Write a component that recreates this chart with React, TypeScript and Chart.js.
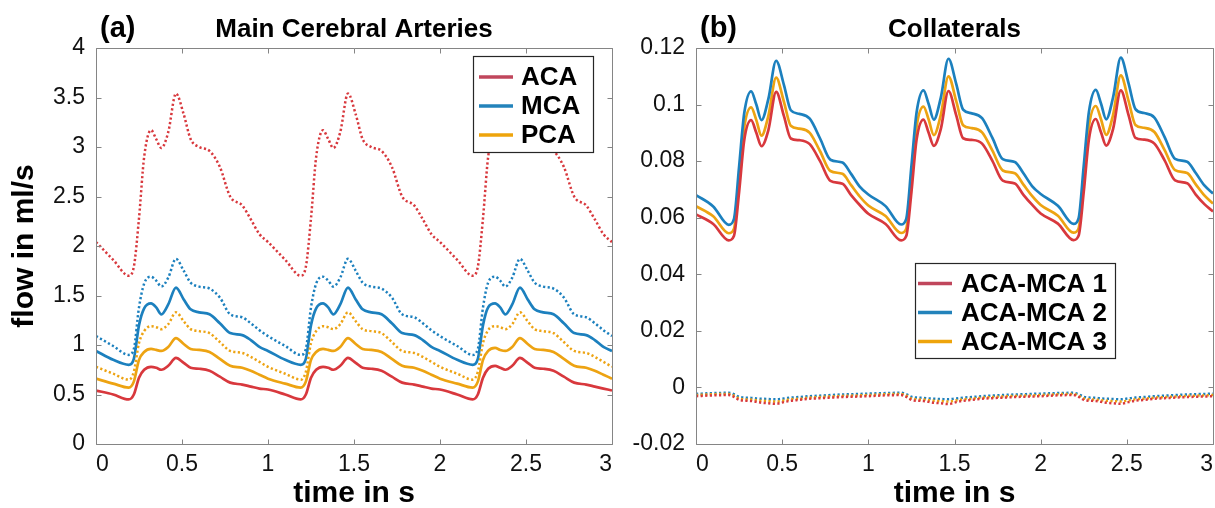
import { useEffect, useRef } from "react";
import { Chart, registerables } from "chart.js";

Chart.register(...registerables);

// ---------- data ----------
const TIME = [
  0, 0.1, 0.19, 0.22, 0.25, 0.28, 0.32, 0.35, 0.38, 0.42, 0.465, 0.51, 0.55, 0.6, 0.66, 0.72, 0.78, 0.85, 0.9, 0.95,
  1, 1.1, 1.19, 1.22, 1.25, 1.28, 1.32, 1.35, 1.38, 1.42, 1.465, 1.51, 1.55, 1.6, 1.66, 1.72, 1.78, 1.85, 1.9, 1.95,
  2, 2.1, 2.19, 2.22, 2.25, 2.28, 2.32, 2.35, 2.38, 2.42, 2.465, 2.51, 2.55, 2.6, 2.66, 2.72, 2.78, 2.85, 2.9, 2.95,
  3,
];

// (a) Main cerebral arteries, solid lines
const ACA_SOLID = [
  0.54, 0.5, 0.45, 0.5, 0.67, 0.75, 0.78, 0.77, 0.75, 0.79, 0.87, 0.82, 0.77, 0.76, 0.74, 0.68, 0.62, 0.6, 0.58, 0.56,
  0.55, 0.5, 0.45, 0.5, 0.67, 0.75, 0.78, 0.77, 0.75, 0.79, 0.87, 0.82, 0.77, 0.76, 0.74, 0.68, 0.62, 0.6, 0.58, 0.56,
  0.55, 0.5, 0.45, 0.5, 0.67, 0.76, 0.79, 0.77, 0.75, 0.79, 0.87, 0.82, 0.77, 0.76, 0.74, 0.68, 0.62, 0.6, 0.58, 0.56,
  0.54,
];
const MCA_SOLID = [
  0.94, 0.85, 0.8, 0.86, 1.2, 1.37, 1.42, 1.38, 1.31, 1.41, 1.58, 1.46, 1.36, 1.33, 1.31, 1.22, 1.12, 1.1, 1.05, 0.98,
  0.94, 0.85, 0.8, 0.86, 1.2, 1.37, 1.42, 1.38, 1.31, 1.41, 1.58, 1.46, 1.36, 1.33, 1.31, 1.22, 1.12, 1.1, 1.05, 0.98,
  0.94, 0.85, 0.8, 0.86, 1.2, 1.38, 1.42, 1.38, 1.31, 1.41, 1.58, 1.46, 1.36, 1.33, 1.31, 1.22, 1.12, 1.1, 1.05, 0.98,
  0.94,
];
const PCA_SOLID = [
  0.66, 0.61, 0.57, 0.63, 0.85, 0.93, 0.96, 0.95, 0.94, 0.98, 1.07, 1.01, 0.96, 0.95, 0.93, 0.86, 0.79, 0.77, 0.74, 0.7,
  0.66, 0.61, 0.57, 0.63, 0.85, 0.93, 0.96, 0.95, 0.94, 0.98, 1.07, 1.01, 0.96, 0.95, 0.93, 0.86, 0.79, 0.77, 0.74, 0.7,
  0.66, 0.61, 0.57, 0.63, 0.85, 0.94, 0.97, 0.95, 0.94, 0.98, 1.07, 1.01, 0.96, 0.95, 0.93, 0.86, 0.79, 0.77, 0.74, 0.7,
  0.66,
];
// (a) dotted lines
const ACA_DOTTED = [
  2.04, 1.86, 1.7, 1.79, 2.28, 2.9, 3.17, 3.08, 2.99, 3.15, 3.54, 3.33, 3.08, 3.0, 2.96, 2.8, 2.5, 2.41, 2.27, 2.12,
  2.04, 1.86, 1.7, 1.79, 2.28, 2.9, 3.17, 3.08, 2.99, 3.15, 3.54, 3.33, 3.08, 3.0, 2.96, 2.8, 2.5, 2.41, 2.27, 2.12,
  2.04, 1.86, 1.7, 1.79, 2.28, 2.9, 3.17, 3.08, 2.99, 3.15, 3.54, 3.33, 3.08, 3.0, 2.96, 2.8, 2.5, 2.41, 2.27, 2.12,
  2.04,
];
const MCA_DOTTED = [
  1.09, 0.99, 0.9, 0.96, 1.38, 1.62, 1.69, 1.65, 1.59, 1.68, 1.87, 1.75, 1.63, 1.59, 1.57, 1.48, 1.31, 1.28, 1.22, 1.15,
  1.09, 0.99, 0.9, 0.96, 1.38, 1.62, 1.69, 1.65, 1.59, 1.68, 1.87, 1.75, 1.63, 1.59, 1.57, 1.48, 1.31, 1.28, 1.22, 1.15,
  1.09, 0.99, 0.9, 0.96, 1.38, 1.63, 1.69, 1.65, 1.59, 1.68, 1.87, 1.75, 1.63, 1.59, 1.57, 1.48, 1.31, 1.28, 1.22, 1.15,
  1.09,
];
const PCA_DOTTED = [
  0.78, 0.71, 0.65, 0.73, 1.02, 1.14, 1.19, 1.18, 1.16, 1.21, 1.33, 1.24, 1.16, 1.14, 1.12, 1.03, 0.94, 0.92, 0.88, 0.83,
  0.78, 0.71, 0.65, 0.73, 1.02, 1.14, 1.19, 1.18, 1.16, 1.21, 1.33, 1.24, 1.16, 1.14, 1.12, 1.03, 0.94, 0.92, 0.88, 0.83,
  0.78, 0.71, 0.65, 0.73, 1.02, 1.15, 1.19, 1.18, 1.16, 1.21, 1.33, 1.24, 1.16, 1.14, 1.12, 1.03, 0.94, 0.92, 0.88, 0.83,
  0.78,
];

// (b) Collaterals, solid lines
const AM1_SOLID = [
  0.0612, 0.0578, 0.052, 0.0535, 0.069, 0.0875, 0.0945, 0.09, 0.0853, 0.091, 0.1045, 0.096, 0.088, 0.0874, 0.086, 0.08, 0.073, 0.072, 0.068, 0.0645,
  0.0614, 0.0578, 0.052, 0.0535, 0.069, 0.0876, 0.0947, 0.09, 0.0854, 0.0912, 0.1048, 0.0962, 0.0881, 0.0875, 0.0862, 0.0801, 0.0731, 0.0721, 0.0681, 0.0646,
  0.0615, 0.0579, 0.0521, 0.0536, 0.0691, 0.0877, 0.0949, 0.0902, 0.0855, 0.0913, 0.105, 0.0963, 0.0882, 0.0876, 0.0862, 0.0802, 0.0732, 0.0722, 0.0682, 0.0648,
  0.0622,
];
const AM2_SOLID = [
  0.068, 0.064, 0.0575, 0.0595, 0.078, 0.097, 0.1047, 0.1, 0.0945, 0.102, 0.1155, 0.107, 0.098, 0.0967, 0.095, 0.088, 0.0805, 0.0795, 0.0755, 0.071,
  0.0682, 0.0641, 0.0576, 0.0596, 0.0782, 0.0972, 0.105, 0.1002, 0.0947, 0.1023, 0.1162, 0.1073, 0.0982, 0.0969, 0.0952, 0.0882, 0.0807, 0.0797, 0.0757, 0.0712,
  0.0684, 0.0642, 0.0578, 0.0598, 0.0784, 0.0974, 0.1052, 0.1004, 0.0948, 0.1025, 0.1166, 0.1075, 0.0984, 0.097, 0.0954, 0.0884, 0.0808, 0.0798, 0.0758, 0.0714,
  0.0686,
];
const AM3_SOLID = [
  0.0641, 0.0605, 0.0545, 0.056, 0.073, 0.092, 0.099, 0.0945, 0.089, 0.096, 0.1095, 0.101, 0.0925, 0.0915, 0.09, 0.0835, 0.0765, 0.0755, 0.0715, 0.0675,
  0.0643, 0.0606, 0.0546, 0.0561, 0.0732, 0.0922, 0.0993, 0.0947, 0.0892, 0.0962, 0.11, 0.1012, 0.0927, 0.0917, 0.0902, 0.0837, 0.0767, 0.0757, 0.0717, 0.0677,
  0.0645, 0.0607, 0.0547, 0.0562, 0.0733, 0.0923, 0.0995, 0.0948, 0.0893, 0.0963, 0.1103, 0.1013, 0.0928, 0.0918, 0.0903, 0.0838, 0.0768, 0.0758, 0.0718, 0.0679,
  0.065,
];
// (b) dotted lines
const AM1_DOTTED = [
  -0.0031, -0.0028, -0.0027, -0.0033, -0.0044, -0.0047, -0.0048, -0.0051, -0.0054, -0.0056, -0.0058, -0.0052, -0.0047, -0.0044, -0.004, -0.0038, -0.0036, -0.0034, -0.0033, -0.0032,
  -0.0031, -0.0028, -0.0027, -0.0033, -0.0044, -0.0047, -0.0048, -0.0051, -0.0054, -0.0056, -0.0059, -0.0052, -0.0047, -0.0044, -0.004, -0.0038, -0.0036, -0.0034, -0.0033, -0.0032,
  -0.0031, -0.0028, -0.0027, -0.0033, -0.0044, -0.0047, -0.0048, -0.0051, -0.0054, -0.0056, -0.0058, -0.0052, -0.0047, -0.0044, -0.004, -0.0038, -0.0036, -0.0034, -0.0033, -0.0032,
  -0.0031,
];
const AM2_DOTTED = [
  -0.0023, -0.002, -0.0019, -0.0024, -0.0033, -0.0036, -0.0037, -0.0039, -0.004, -0.0041, -0.0042, -0.0039, -0.0036, -0.0034, -0.0031, -0.0029, -0.0027, -0.0025, -0.0024, -0.0023,
  -0.0022, -0.002, -0.0019, -0.0024, -0.0033, -0.0036, -0.0037, -0.0039, -0.004, -0.0041, -0.0042, -0.0039, -0.0036, -0.0034, -0.0031, -0.0029, -0.0027, -0.0025, -0.0024, -0.0023,
  -0.0022, -0.002, -0.0019, -0.0024, -0.0033, -0.0036, -0.0037, -0.0039, -0.004, -0.0041, -0.0042, -0.0039, -0.0036, -0.0034, -0.0031, -0.0029, -0.0027, -0.0025, -0.0024, -0.0023,
  -0.0022,
];
const AM3_DOTTED = [
  -0.0027, -0.0024, -0.0023, -0.0029, -0.0039, -0.0042, -0.0043, -0.0045, -0.0047, -0.0048, -0.005, -0.0046, -0.0042, -0.004, -0.0036, -0.0034, -0.0032, -0.003, -0.0029, -0.0028,
  -0.0027, -0.0024, -0.0023, -0.0029, -0.0039, -0.0042, -0.0043, -0.0045, -0.0047, -0.0048, -0.005, -0.0046, -0.0042, -0.004, -0.0036, -0.0034, -0.0032, -0.003, -0.0029, -0.0028,
  -0.0027, -0.0024, -0.0023, -0.0029, -0.0039, -0.0042, -0.0043, -0.0045, -0.0047, -0.0048, -0.005, -0.0046, -0.0042, -0.004, -0.0036, -0.0034, -0.0032, -0.003, -0.0029, -0.0028,
  -0.0027,
];

const X_TICKS = [0, 0.5, 1, 1.5, 2, 2.5, 3];
const X_TICK_LABELS = ["0", "0.5", "1", "1.5", "2", "2.5", "3"];
const Y_TICKS_A = [0, 0.5, 1, 1.5, 2, 2.5, 3, 3.5, 4];
const Y_TICK_LABELS_A = ["0", "0.5", "1", "1.5", "2", "2.5", "3", "3.5", "4"];
const Y_TICKS_B = [-0.02, 0, 0.02, 0.04, 0.06, 0.08, 0.1, 0.12];
const Y_TICK_LABELS_B = ["-0.02", "0", "0.02", "0.04", "0.06", "0.08", "0.1", "0.12"];

const LEGEND_A = ["ACA", "MCA", "PCA"];
const LEGEND_B = ["ACA-MCA 1", "ACA-MCA 2", "ACA-MCA 3"];

// ---------- styles ----------
const FONT = '"Liberation Sans", Arial, Helvetica, sans-serif';
const RED = "#d8383d";
const BLUE = "#1c80be";
const ORANGE = "#eda312";
const LEG_RED = "#c0465c";
const LEG_BLUE = "#2383bb";
const LEG_ORANGE = "#eea40c";
const FRAME = "#858585";
const TICK_LEN = 5;
const TICK_FONT_SIZE = 23;
const TITLE_SIZE = 26;
const LABEL_SIZE = 30;
const PANEL_TAG_SIZE = 29;

type TextSpec = { text: string; x: number; y: number; align: CanvasTextAlign; base: CanvasTextBaseline; size: number; rotate?: boolean };
type LegendSpec = { x: number; y: number; w: number; h: number; lx0: number; lx1: number; tx: number; rows: number[]; labels: string[]; colors: string[] };

function decor(texts: TextSpec[], legend: LegendSpec) {
  return {
    id: "decor",
    afterDraw(chart: any) {
      const { ctx, chartArea: a } = chart;
      const xs = chart.scales.x;
      const ys = chart.scales.y;
      ctx.save();
      // frame + inward ticks
      const L = Math.round(a.left) + 0.5;
      const R = Math.round(a.right) + 0.5;
      const T = Math.round(a.top) + 0.5;
      const B = Math.round(a.bottom) + 0.5;
      ctx.strokeStyle = FRAME;
      ctx.lineWidth = 1;
      ctx.setLineDash([]);
      ctx.beginPath();
      ctx.rect(L, T, R - L, B - T);
      xs.ticks.forEach((t: any) => {
        const p = Math.round(xs.getPixelForValue(t.value)) + 0.5;
        ctx.moveTo(p, B);
        ctx.lineTo(p, B - TICK_LEN);
        ctx.moveTo(p, T);
        ctx.lineTo(p, T + TICK_LEN);
      });
      ys.ticks.forEach((t: any) => {
        const p = Math.round(ys.getPixelForValue(t.value)) + 0.5;
        ctx.moveTo(L, p);
        ctx.lineTo(L + TICK_LEN, p);
        ctx.moveTo(R, p);
        ctx.lineTo(R - TICK_LEN, p);
      });
      ctx.stroke();

      // legend
      ctx.fillStyle = "#ffffff";
      ctx.fillRect(legend.x, legend.y, legend.w, legend.h);
      ctx.strokeStyle = "#262626";
      ctx.lineWidth = 1.2;
      ctx.strokeRect(legend.x + 0.5, legend.y + 0.5, legend.w, legend.h);
      ctx.font = `bold ${TITLE_SIZE}px ${FONT}`;
      ctx.textAlign = "left";
      ctx.textBaseline = "middle";
      legend.rows.forEach((ry, i) => {
        ctx.strokeStyle = legend.colors[i];
        ctx.lineWidth = 3.5;
        ctx.beginPath();
        ctx.moveTo(legend.lx0, ry);
        ctx.lineTo(legend.lx1, ry);
        ctx.stroke();
        ctx.fillStyle = "#000000";
        ctx.fillText(legend.labels[i], legend.tx, ry + 1);
      });

      // titles and axis labels
      ctx.fillStyle = "#000000";
      texts.forEach((t) => {
        ctx.save();
        ctx.font = `bold ${t.size}px ${FONT}`;
        ctx.textAlign = t.align;
        ctx.textBaseline = t.base;
        if (t.rotate) {
          ctx.translate(t.x, t.y);
          ctx.rotate(-Math.PI / 2);
          ctx.fillText(t.text, 0, 0);
        } else {
          ctx.fillText(t.text, t.x, t.y);
        }
        ctx.restore();
      });
      ctx.restore();
    },
  };
}

function line(values: number[], color: string, dotted: boolean, label: string) {
  return {
    label,
    data: TIME.map((t, i) => ({ x: t, y: values[i] })),
    borderColor: color,
    backgroundColor: color,
    borderWidth: dotted ? 2.5 : 2.7,
    borderDash: dotted ? [2.2, 2.4] : [],
    borderCapStyle: "butt",
    pointRadius: 0,
    fill: false,
    cubicInterpolationMode: "monotone",
  };
}

function axis(ticks: number[], labels: string[], min: number, max: number, horizontal: boolean, size: number) {
  return {
    type: "linear",
    min,
    max,
    grid: { display: false, drawTicks: false },
    border: { display: false },
    ticks: {
      autoSkip: false,
      maxRotation: 0,
      align: horizontal ? "inner" : "center",
      padding: horizontal ? 7 : 11,
      color: "#111111",
      font: { family: FONT, size: TICK_FONT_SIZE },
      callback: (_v: any, i: number) => labels[i],
    },
    afterBuildTicks: (scale: any) => {
      scale.ticks = ticks.map((v) => ({ value: v }));
    },
    afterFit: (scale: any) => {
      if (horizontal) scale.height = size;
      else scale.width = size;
      scale.paddingLeft = 0;
      scale.paddingRight = 0;
      scale.paddingTop = 0;
      scale.paddingBottom = 0;
    },
  };
}

function Panel(props: { left: number; width: number; config: any }) {
  const ref = useRef<HTMLCanvasElement | null>(null);
  useEffect(() => {
    if (!ref.current) return;
    const chart = new Chart(ref.current, props.config);
    return () => chart.destroy();
  }, []);
  return (
    <canvas
      ref={ref}
      width={props.width}
      height={508}
      style={{ position: "absolute", left: props.left, top: 0, width: props.width, height: 508 }}
    />
  );
}

const configA = {
  type: "line",
  data: {
    datasets: [
      line(ACA_DOTTED, RED, true, "ACA (dotted)"),
      line(MCA_DOTTED, BLUE, true, "MCA (dotted)"),
      line(PCA_DOTTED, ORANGE, true, "PCA (dotted)"),
      line(ACA_SOLID, RED, false, "ACA"),
      line(MCA_SOLID, BLUE, false, "MCA"),
      line(PCA_SOLID, ORANGE, false, "PCA"),
    ],
  },
  options: {
    animation: false,
    responsive: false,
    maintainAspectRatio: false,
    devicePixelRatio: 1,
    layout: { padding: { left: 0, top: 48, right: 18, bottom: 0 } },
    plugins: { legend: { display: false }, tooltip: { enabled: false }, title: { display: false } },
    scales: {
      x: axis(X_TICKS, X_TICK_LABELS, 0, 3, true, 64),
      y: axis(Y_TICKS_A, Y_TICK_LABELS_A, 0, 4, false, 96),
    },
  },
  plugins: [
    decor(
      [
        { text: "(a)", x: 100, y: 37, align: "left", base: "alphabetic", size: PANEL_TAG_SIZE },
        { text: "Main Cerebral Arteries", x: 354, y: 37, align: "center", base: "alphabetic", size: TITLE_SIZE },
        { text: "time in s", x: 354, y: 494, align: "center", base: "middle", size: LABEL_SIZE },
        { text: "flow in ml/s", x: 25, y: 246, align: "center", base: "middle", size: LABEL_SIZE, rotate: true },
      ],
      { x: 473, y: 56, w: 120, h: 96, lx0: 479, lx1: 513, tx: 521, rows: [77, 106, 135], labels: LEGEND_A, colors: [LEG_RED, LEG_BLUE, LEG_ORANGE] }
    ),
  ],
};

const configB = {
  type: "line",
  data: {
    datasets: [
      line(AM1_DOTTED, RED, true, "ACA-MCA 1 (dotted)"),
      line(AM3_DOTTED, ORANGE, true, "ACA-MCA 3 (dotted)"),
      line(AM2_DOTTED, BLUE, true, "ACA-MCA 2 (dotted)"),
      line(AM1_SOLID, RED, false, "ACA-MCA 1"),
      line(AM2_SOLID, BLUE, false, "ACA-MCA 2"),
      line(AM3_SOLID, ORANGE, false, "ACA-MCA 3"),
    ],
  },
  options: {
    animation: false,
    responsive: false,
    maintainAspectRatio: false,
    devicePixelRatio: 1,
    layout: { padding: { left: 0, top: 48, right: 2, bottom: 0 } },
    plugins: { legend: { display: false }, tooltip: { enabled: false }, title: { display: false } },
    scales: {
      x: axis(X_TICKS, X_TICK_LABELS, 0, 3, true, 64),
      y: axis(Y_TICKS_B, Y_TICK_LABELS_B, -0.02, 0.12, false, 66),
    },
  },
  plugins: [
    decor(
      [
        { text: "(b)", x: 70, y: 37, align: "left", base: "alphabetic", size: PANEL_TAG_SIZE },
        { text: "Collaterals", x: 324.5, y: 37, align: "center", base: "alphabetic", size: TITLE_SIZE },
        { text: "time in s", x: 324.5, y: 494, align: "center", base: "middle", size: LABEL_SIZE },
      ],
      { x: 285, y: 263, w: 200, h: 95, lx0: 288, lx1: 322, tx: 331, rows: [283.5, 312.5, 341.5], labels: LEGEND_B, colors: [LEG_RED, LEG_BLUE, LEG_ORANGE] }
    ),
  ],
};

export default function App() {
  return (
    <div style={{ position: "fixed", left: 0, top: 0, width: 1215, height: 508, background: "#ffffff", overflow: "hidden" }}>
      <Panel left={0} width={630} config={configA} />
      <Panel left={630} width={585} config={configB} />
    </div>
  );
}
